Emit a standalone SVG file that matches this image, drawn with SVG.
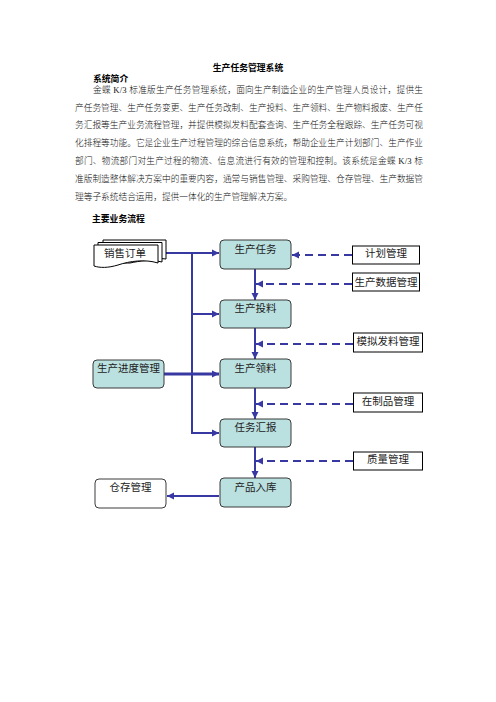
<svg xmlns="http://www.w3.org/2000/svg" width="496" height="702" viewBox="0 0 496 702">
<defs>
<style>
.body{font-family:"Liberation Serif","Noto Sans CJK SC",serif;font-size:8.7px;font-weight:300;fill:#111}
.head{font-family:"Liberation Serif","Noto Sans CJK SC",serif;font-size:8.8px;font-weight:bold;fill:#000}
.lbl{font-family:"Liberation Sans","Noto Sans CJK SC",sans-serif;font-size:10.5px;fill:#222;text-anchor:middle}
.proc{fill:#bae0e0;stroke:#3a3a3a;stroke-width:1}
.ext{fill:#fff;stroke:#000;stroke-width:1}
.wbox{fill:#fff;stroke:#3a3a3a;stroke-width:1}
.flow{fill:none;stroke:#3838a2;stroke-width:2}
.dash{fill:none;stroke:#3838a2;stroke-width:2;stroke-dasharray:8,5}
</style>
<marker id="ah" markerUnits="userSpaceOnUse" markerWidth="8" markerHeight="8" refX="7" refY="4" orient="auto">
<path d="M0,0.5 L7,4 L0,7.5 Z" fill="#3838a2"/>
</marker>
</defs>

<g id="text">
<text class="head" x="248" y="70.5" text-anchor="middle">生产任务管理系统</text>
<text class="head" x="93" y="82">系统简介</text>
<text class="body" x="93" y="92.5" textLength="330" lengthAdjust="spacing">金蝶 K/3 标准版生产任务管理系统，面向生产制造企业的生产管理人员设计，提供生</text>
<text class="body" x="75" y="110.5" textLength="348" lengthAdjust="spacing">产任务管理、生产任务变更、生产任务改制、生产投料、生产领料、生产物料报废、生产任</text>
<text class="body" x="75" y="128" textLength="348" lengthAdjust="spacing">务汇报等生产业务流程管理，并提供模拟发料配套查询、生产任务全程跟踪、生产任务可视</text>
<text class="body" x="75" y="146" textLength="348" lengthAdjust="spacing">化排程等功能。它是企业生产过程管理的综合信息系统，帮助企业生产计划部门、生产作业</text>
<text class="body" x="75" y="164" textLength="348" lengthAdjust="spacing">部门、物流部门对生产过程的物流、信息流进行有效的管理和控制。该系统是金蝶 K/3 标</text>
<text class="body" x="75" y="182" textLength="348" lengthAdjust="spacing">准版制造整体解决方案中的重要内容，通常与销售管理、采购管理、仓存管理、生产数据管</text>
<text class="body" x="75" y="199.5">理等子系统结合运用，提供一体化的生产管理解决方案。</text>
<text class="head" x="92" y="222">主要业务流程</text>
</g>

<g id="connectors">
<path class="flow" d="M166,253 H219" marker-end="url(#ah)"/>
<path class="flow" d="M192,253 V433 H219" marker-end="url(#ah)"/>
<path class="flow" d="M192,314 H219" marker-end="url(#ah)"/>
<path class="flow" d="M164,374 H219" style="stroke-width:3" marker-end="url(#ah)"/>
<path class="flow" d="M255,269 V300" marker-end="url(#ah)"/>
<path class="flow" d="M255,328 V359" marker-end="url(#ah)"/>
<path class="flow" d="M255,388 V419" marker-end="url(#ah)"/>
<path class="flow" d="M255,447 V478" marker-end="url(#ah)"/>
<path class="flow" d="M219,496 H167" marker-end="url(#ah)"/>
<path class="dash" d="M352,255 H292" marker-end="url(#ah)"/>
<path class="dash" d="M352,284 H256" marker-end="url(#ah)"/>
<path class="dash" d="M353,344 H256" marker-end="url(#ah)"/>
<path class="dash" d="M353,404 H256" marker-end="url(#ah)"/>
<path class="dash" d="M353,461 H256" marker-end="url(#ah)"/>
</g>

<g id="n-xsdd">
<path class="ext" d="M103,240 H166 V259 C160,258 156,259 152,260 L103,260 Z"/>
<path class="ext" d="M98,242.5 H162 V262 C150,259 140,261 130,263 L98,263 Z"/>
<path class="ext" d="M94,245 H158 V263 C145,259 130,261 118,265 C108,268 100,268 94,266 Z"/>
<text class="lbl" x="125" y="257">销售订单</text>
</g>

<g id="n-scrw"><rect class="proc" x="220" y="240" width="71" height="29" rx="4"/><text class="lbl" x="255.5" y="253">生产任务</text></g>
<g id="n-sctl"><rect class="proc" x="220" y="300" width="71" height="28" rx="4"/><text class="lbl" x="255.5" y="312">生产投料</text></g>
<g id="n-scll"><rect class="proc" x="220" y="359" width="71" height="29" rx="4"/><text class="lbl" x="255.5" y="372">生产领料</text></g>
<g id="n-rwhb"><rect class="proc" x="220" y="419" width="71" height="28" rx="4"/><text class="lbl" x="255.5" y="431">任务汇报</text></g>
<g id="n-cprk"><rect class="proc" x="220" y="478" width="71" height="29" rx="4"/><text class="lbl" x="255.5" y="491">产品入库</text></g>
<g id="n-scjd"><rect class="proc" x="93" y="360" width="71" height="28" rx="4"/><text class="lbl" x="128.5" y="372">生产进度管理</text></g>
<g id="n-ccgl"><rect class="wbox" x="95" y="479" width="71" height="29" rx="4"/><text class="lbl" x="130.5" y="491">仓存管理</text></g>

<g id="n-jhgl"><rect class="ext" x="352.5" y="246" width="67" height="18"/><text class="lbl" x="386" y="256.5">计划管理</text></g>
<g id="n-scsj"><rect class="ext" x="352.5" y="273" width="67" height="18"/><text class="lbl" x="386" y="285.5">生产数据管理</text></g>
<g id="n-mnfl"><rect class="ext" x="353.5" y="333" width="69" height="19"/><text class="lbl" x="388" y="345">模拟发料管理</text></g>
<g id="n-zzp"><rect class="ext" x="353.5" y="393" width="69" height="19"/><text class="lbl" x="388" y="405">在制品管理</text></g>
<g id="n-zlgl"><rect class="ext" x="353.5" y="452" width="69" height="18"/><text class="lbl" x="388" y="463">质量管理</text></g>
</svg>
